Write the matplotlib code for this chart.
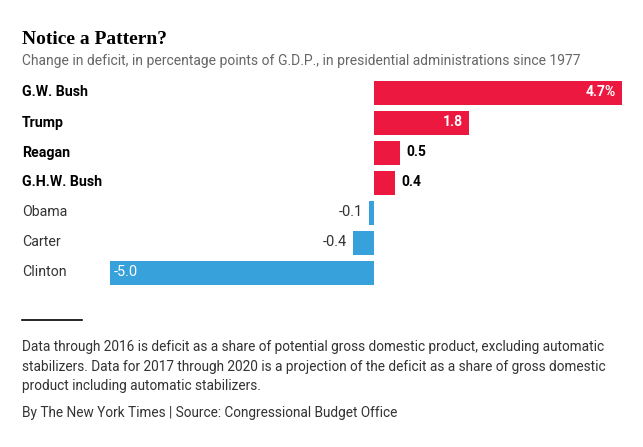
import matplotlib
matplotlib.use("Agg")
import matplotlib.pyplot as plt
from matplotlib import font_manager
from matplotlib.transforms import blended_transform_factory

names = ["G.W. Bush", "Trump", "Reagan", "G.H.W. Bush", "Obama", "Carter", "Clinton"]
values = [4.7, 1.8, 0.5, 0.4, -0.1, -0.4, -5.0]
value_labels = ["4.7%", "1.8", "0.5", "0.4", "-0.1", "-0.4", "-5.0"]
inside = [True, True, False, False, False, False, True]

title = "Notice a Pattern?"
subtitle = "Change in deficit, in percentage points of G.D.P., in presidential administrations since 1977"
note_lines = ["Data through 2016 is deficit as a share of potential gross domestic product, excluding automatic",
              "stabilizers. Data for 2017 through 2020 is a projection of the deficit as a share of gross domestic",
              "product including automatic stabilizers."]
credit = "By The New York Times | Source: Congressional Budget Office"

avail = {f.name for f in font_manager.fontManager.ttflist}
sans = "Liberation Sans Narrow" if "Liberation Sans Narrow" in avail else "Roboto"
serif = "Liberation Serif"

RED = "#ec1840"
BLUE = "#36a1da"
GRAY = "#666666"
TXT = "#333333"

W, H = 643, 447
fig = plt.figure(figsize=(W / 100, H / 100), dpi=100)
ax = fig.add_axes([0, 0, 1, 1])
ax.axis("off")
scale = 52.8
zero_px = 374
ax.set_xlim(-zero_px / scale, (W - zero_px) / scale)
row0, step = 92.5, 30
ax.set_ylim((H - row0) / step, -row0 / step)

ys = list(range(len(names)))
colors = [RED if v > 0 else BLUE for v in values]
ax.barh(ys, values, height=0.8, color=colors, linewidth=0)

lab_tr = blended_transform_factory(fig.transFigure, ax.transData)
pad = 6 / scale
for y, n, v, lab, ins in zip(ys, names, values, value_labels, inside):
    bold = v > 0
    ax.text(22 / W, y, n, transform=lab_tr, ha="left", va="center",
            fontsize=10.2, family=sans, fontweight="bold" if bold else "normal",
            color="black" if bold else TXT)
    if v > 0:
        if ins:
            ax.text(v - pad, y, lab, ha="right", va="center", color="white",
                    fontsize=10, family=sans, fontweight="bold")
        else:
            ax.text(v + pad, y, lab, ha="left", va="center", color="black",
                    fontsize=10, family=sans, fontweight="bold")
    else:
        if ins:
            ax.text(v + pad * 0.7, y, lab, ha="left", va="center", color="white",
                    fontsize=10.5, family=sans)
        else:
            ax.text(v - pad, y, lab, ha="right", va="center", color=TXT,
                    fontsize=10.5, family=sans)

fig.text(22 / W, 1 - 40 / H, title, ha="left", va="center", fontsize=14,
         family=serif, fontweight="bold", color="black")
fig.text(22 / W, 1 - 61 / H, subtitle, ha="left", va="center", fontsize=10,
         family=sans, color=GRAY)

fig.add_artist(plt.Line2D([22 / W, 82 / W], [1 - 320 / H, 1 - 320 / H],
                          transform=fig.transFigure, color="black", linewidth=1.2))
for i, line in enumerate(note_lines):
    fig.text(22 / W, 1 - (347 + 19.5 * i) / H, line, ha="left", va="center",
             fontsize=9.8, family=sans, color=TXT)
fig.text(22 / W, 1 - 413 / H, credit, ha="left", va="center", fontsize=9.8,
         family=sans, color=TXT)

fig.savefig("out.png", dpi=100, facecolor="white")
